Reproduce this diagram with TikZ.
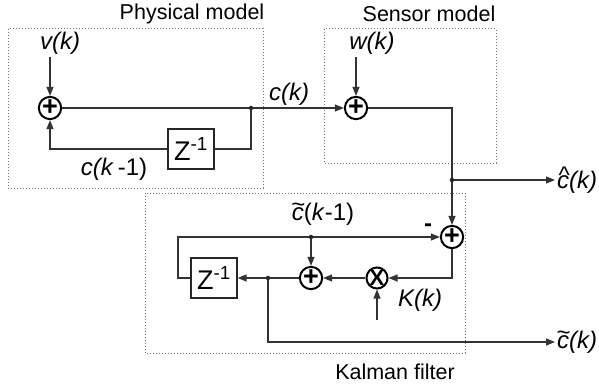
\documentclass[tikz,border=0pt]{standalone}
\usepackage{fontspec}
\setmainfont{Liberation Sans}
\usetikzlibrary{arrows.meta, positioning}

\newcommand{\hatc}{\makebox[0pt][l]{\raisebox{0.22em}{\hspace{0.06em}\textasciicircum}}\textit{c}}
\newcommand{\tildec}{\makebox[0pt][l]{\raisebox{0.34em}{\hspace{-0.02em}\textasciitilde}}\textit{c}}

\begin{document}
\begin{tikzpicture}[
x=1pt, y=-1pt,
font=\fontsize{24}{28}\selectfont,
sum/.style={
circle,
draw,
line width=2pt,
minimum size=19pt,
inner sep=0pt,
font=\fontsize{27}{27}\selectfont\bfseries
},
delay/.style={
rectangle,
draw=black!85,
line width=1.3pt,
minimum width=46pt,
minimum height=40pt,
inner sep=0pt,
font=\fontsize{27}{27}\selectfont
},
region/.style={draw=black!55, line width=1pt, dash pattern=on 1pt off 2pt},
title/.style={font=\fontsize{21.5}{24}\selectfont},
dot/.style={circle, fill=black!85, inner sep=0pt, minimum size=4.5pt},
line/.style={line width=1.3pt, draw=black!80},
arrow/.style={line, -{Triangle[length=9pt,width=7pt]}}
]
\useasboundingbox (0,0) rectangle (599,385);

% Regions
\draw[region] (8,29) rectangle (263,188);
\draw[region] (324,29) rectangle (496,163);
\draw[region] (145,193) rectangle (465,353);
\node[title] (tphys) at (192,14) {Physical model};
\node[title] (tsens) at (429,14) {Sensor model};
\node[title] (tkal) at (395,372) {Kalman filter};

% Physical model
\node[sum] (psum) at (50,108) {+};
\node[delay] (pz) at (191,149) {Z\textsuperscript{-1}};
\coordinate (vin) at (50,57);
\coordinate (pjoin) at (251,108);
\node (vlbl) at (60,43) {\textit{v(k)}};
\node (clbl) at (289,94) {\textit{c(k)}};
\node (cold) at (114,169) {\textit{c(k}\,-1)};

% Sensor model
\node[sum] (ssum) at (356,108) {+};
\coordinate (win) at (356,57);
\coordinate (sjoin) at (452,180);
\node (wlbl) at (372,43) {\textit{w(k)}};

% Kalman filter
\node[sum] (ksum) at (452,237) {+};
\node[sum, font=\fontsize{22}{22}\selectfont\bfseries] (kmul) at (377,278) {X};
\node[sum] (kadd) at (311,278) {+};
\node[delay] (kz) at (214,278) {Z\textsuperscript{-1}};
\coordinate (kjoin) at (268,278);
\coordinate (ktap) at (311,237);
\coordinate (kback) at (178,237);
\coordinate (kin) at (377,320);
\node (klbl) at (420,300) {\textit{K(k)}};
\node[font=\fontsize{24}{24}\selectfont\bfseries] (kminus) at (428,228) {-};
\node (ctold) at (323,214) {\tildec(\textit{k}-1)};

% Outputs
\node[anchor=west, inner sep=2pt] (chat) at (555,180) {\hatc\textit{(k)}};
\node[anchor=west, inner sep=2pt] (ctil) at (555,342) {\tildec\textit{(k)}};

% Arrows
\draw[arrow] (vin) -- (psum);
\draw[arrow] (psum) -- (ssum);
\draw[line] (pjoin) |- (pz);
\draw[arrow] (pz) -| (psum);
\node[dot] at (pjoin) {};

\draw[arrow] (win) -- (ssum);
\draw[line] (ssum) -| (sjoin);
\draw[arrow] (sjoin) -- (chat);
\draw[arrow] (sjoin) -- (ksum);
\node[dot] at (sjoin) {};

\draw[arrow] (ksum) |- (kmul);
\draw[arrow] (kmul) -- (kadd);
\draw[arrow] (kadd) -- (kz);
\draw[arrow] (kz) -| (kback) -- (ksum);
\draw[arrow] (ktap) -- (kadd);
\draw[arrow] (kin) -- (kmul);
\draw[arrow] (kjoin) |- (ctil);
\node[dot] at (ktap) {};
\node[dot] at (kjoin) {};

\end{tikzpicture}
\end{document}
